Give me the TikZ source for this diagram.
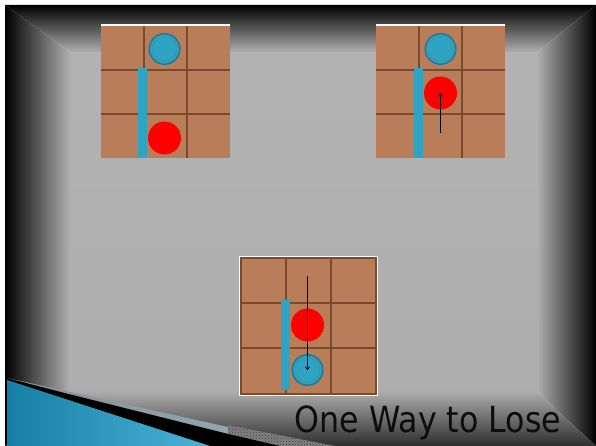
\documentclass[tikz,border=0pt]{standalone}
\usepackage{fontspec}
\newfontfamily\titlefont{DejaVu Sans}
\usetikzlibrary{arrows.meta,patterns}
\definecolor{cellbrown}{HTML}{B97D5A}
\definecolor{linebrown}{HTML}{7A4A2E}
\definecolor{tealbar}{HTML}{2EA3C2}
\definecolor{tealring}{HTML}{1F7C99}
\definecolor{steel}{HTML}{8FA7B1}
\definecolor{swooshA}{HTML}{177FA3}
\definecolor{swooshB}{HTML}{4AB4D8}
\begin{document}
\begin{tikzpicture}[x=1pt,y=1pt,
  board/.style={fill=cellbrown},
  gridline/.style={draw=linebrown,line width=1.6pt},
  wall/.style={fill=tealbar},
  bluetok/.style={circle,fill=tealbar,draw=tealring,line width=1.6pt,minimum size=30.5pt,inner sep=0pt},
  innerring/.style={draw=tealring!85,line width=0.6pt},
  redtok/.style={circle,fill=red,minimum size=33pt,inner sep=0pt},
  movearrow/.style={draw=black,line width=0.7pt,-{To[length=3.5pt,width=5pt]}}
]
\useasboundingbox (0,0) rectangle (596,446);
\fill[white] (0,0) rectangle (596,446);
% background frame
\shade[top color=black!30,bottom color=black!32] (70,54) rectangle (537,394);
\shade[top color=black,bottom color=black!32] (5,441) -- (596,441) -- (537,394) -- (70,394) -- cycle;
\shade[left color=black,right color=black!31] (5,441) -- (70,394) -- (70,54) -- (5,0) -- cycle;
\shade[left color=black!31,right color=black] (596,441) -- (537,394) -- (537,54) -- (596,0) -- cycle;
\shade[top color=black!33,bottom color=black!82] (5,0) -- (70,54) -- (537,54) -- (596,0) -- cycle;
% swoosh
\shade[left color=black!45,right color=steel] (30,63) -- (228,19) -- (228,12) -- (7,68) -- cycle;
\fill[black!50] (228,21) -- (335,0) -- (228,0) -- cycle;
\fill[pattern=crosshatch dots,pattern color=black!75] (228,21) -- (335,0) -- (228,0) -- cycle;
\fill[black] (5,68) -- (228,12) -- (280,0) -- (210,0) -- (5,66) -- cycle;
\shade[shading angle=60,left color=swooshA,right color=swooshB] (7,66) -- (210,0) -- (7,0) -- cycle;
% board 1
\fill[board] (101,288) rectangle (230,420);
\draw[gridline] (144,288) -- (144,420) (187,288) -- (187,420) (101,376) -- (230,376) (101,332) -- (230,332);
\draw[white,line width=1.2pt] (101,421) -- (230,421);
\fill[wall] (138,288) rectangle (147,378);
\node[bluetok] (b1blue) at (164.5,397) {};
\draw[innerring] (b1blue.center) circle (12.5pt);
\node[redtok] (b1red) at (164.5,308) {};
% board 2
\fill[board] (376,288) rectangle (505,420);
\draw[gridline] (419,288) -- (419,420) (462,288) -- (462,420) (376,376) -- (505,376) (376,332) -- (505,332);
\draw[white,line width=1.2pt] (376,421) -- (505,421);
\fill[wall] (414,288) rectangle (423,378);
\node[bluetok] (b2blue) at (440.5,397) {};
\draw[innerring] (b2blue.center) circle (12.5pt);
\node[redtok] (b2red) at (440.5,353) {};
\coordinate (b2start) at (440.5,313);
\draw[movearrow] (b2start) -- (b2red.center);
% board 3
\fill[white] (239,50) rectangle (378,190);
\fill[board] (241,52) rectangle (376,188);
\draw[gridline] (286,52) -- (286,188) (331,52) -- (331,188) (241,143) -- (376,143) (241,98) -- (376,98);
\draw[gridline] (241,52) rectangle (376,188);
\fill[wall] (281,56) rectangle (290,146);
\node[redtok] (b3red) at (307.5,121) {};
\node[bluetok] (b3blue) at (307.5,76) {};
\draw[innerring] (b3blue.center) circle (12.5pt);
\coordinate (b3start) at (307.5,170);
\draw[movearrow] (b3start) -- (b3blue.center);
% title
\node[anchor=base,text=black!95,inner sep=0pt,font=\titlefont\fontsize{36}{36}\selectfont] (title) at (428,13) {\scalebox{0.88}[1]{One Way to Lose}};
\end{tikzpicture}
\end{document}
